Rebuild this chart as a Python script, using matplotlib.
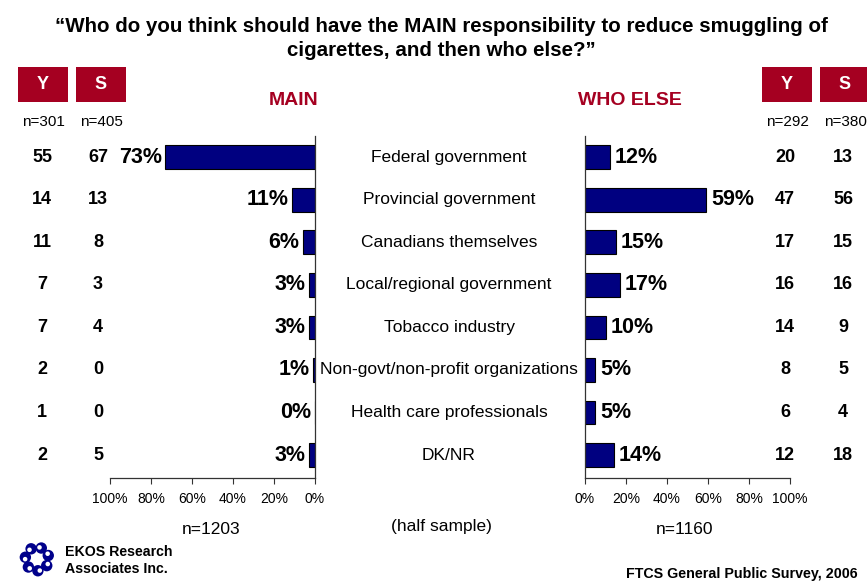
import matplotlib
matplotlib.use("Agg")
import numpy as np
import matplotlib.pyplot as plt
import matplotlib.transforms as mtransforms
from matplotlib.patches import Circle, Rectangle

categories = ["Federal government", "Provincial government", "Canadians themselves",
              "Local/regional government", "Tobacco industry",
              "Non-govt/non-profit organizations", "Health care professionals", "DK/NR"]
main_pct = [73, 11, 6, 3, 3, 1, 0, 3]
else_pct = [12, 59, 15, 17, 10, 5, 5, 14]
main_youth = [55, 14, 11, 7, 7, 2, 1, 2]
main_smokers = [67, 13, 8, 3, 4, 0, 0, 5]
else_youth = [20, 47, 17, 16, 14, 8, 6, 12]
else_smokers = [13, 56, 15, 16, 9, 5, 4, 18]
ticks = [0, 20, 40, 60, 80, 100]
tick_labels = ["0%", "20%", "40%", "60%", "80%", "100%"]

W, H = 867, 582
RED = "#A50021"
NAVY = "#000080"
FONT = "Liberation Sans"

fig = plt.figure(figsize=(W / 100, H / 100), dpi=100)


def fx(x):
    return x / W


def fy(y):
    return 1 - y / H


rows = list(range(len(categories)))
ax_top, ax_bot = 136, 478
axL = fig.add_axes([fx(110), fy(ax_bot), 205 / W, (ax_bot - ax_top) / H])
axR = fig.add_axes([fx(585), fy(ax_bot), 205 / W, (ax_bot - ax_top) / H])

for ax, vals in ((axL, main_pct), (axR, else_pct)):
    ax.barh(rows, vals, height=0.56, color=NAVY, edgecolor="black", linewidth=0.8)
    ax.set_xlim(0, 100)
    ax.set_ylim(7.54, -0.5)
    ax.set_yticks([])
    ax.set_xticks(ticks)
    ax.set_xticklabels(tick_labels, fontsize=10, family=FONT)
    ax.tick_params(axis="x", direction="out", length=4, width=0.8, color="#333333", pad=6)
    for s in ax.spines.values():
        s.set_color("#333333")
        s.set_linewidth(0.9)
    ax.spines["top"].set_visible(False)

axL.invert_xaxis()
axL.spines["left"].set_visible(False)
axR.spines["right"].set_visible(False)

# percent labels next to the bars
for i, v in enumerate(main_pct):
    axL.text(v + 1.8, i, f"{v}%", ha="right", va="center", fontsize=15.5,
             fontweight="bold", family=FONT)
for i, v in enumerate(else_pct):
    axR.text(v + 2.5, i, f"{v}%", ha="left", va="center", fontsize=15.5,
             fontweight="bold", family=FONT)

# category names and subgroup counts
tr = mtransforms.blended_transform_factory(fig.transFigure, axL.transData)
for i, cat in enumerate(categories):
    fig.text(fx(449), i, cat, transform=tr, ha="center", va="center",
             fontsize=12.5, family=FONT)
    for x, col in ((42, main_youth), (98, main_smokers), (785, else_youth), (843, else_smokers)):
        fig.text(fx(x), i, str(col[i]), transform=tr, ha="center", va="center",
                 fontsize=13, fontweight="bold", family=FONT)

# Y / S badges
for x0, label, n in ((18, "Y", "n=301"), (76, "S", "n=405"),
                     (762, "Y", "n=292"), (820, "S", "n=380")):
    fig.patches.append(Rectangle((fx(x0), fy(102)), 50 / W, 35 / H, transform=fig.transFigure,
                                 facecolor=RED, edgecolor="none"))
    fig.text(fx(x0 + 25), fy(84.5), label, ha="center", va="center", color="white",
             fontsize=13, fontweight="bold", family=FONT)
    fig.text(fx(x0 + 25), fy(122), n, ha="center", va="center", fontsize=11, family=FONT)

fig.text(fx(294), fy(100), "MAIN", ha="center", va="center", color=RED,
         fontsize=14, fontweight="bold", family=FONT)
fig.text(fx(630), fy(100), "WHO ELSE", ha="center", va="center", color=RED,
         fontsize=14, fontweight="bold", family=FONT)

fig.text(fx(441), fy(27), "\u201cWho do you think should have the MAIN responsibility to reduce smuggling of",
         ha="center", va="center", fontsize=14.8, fontweight="bold", family=FONT)
fig.text(fx(441), fy(50), "cigarettes, and then who else?\u201d",
         ha="center", va="center", fontsize=14.8, fontweight="bold", family=FONT)

fig.text(fx(211), fy(529), "n=1203", ha="center", va="center", fontsize=12.5, family=FONT)
fig.text(fx(441), fy(527), "(half sample)", ha="center", va="center", fontsize=12.5, family=FONT)
fig.text(fx(685), fy(529), "n=1160", ha="center", va="center", fontsize=12.5, family=FONT)

fig.text(fx(858), fy(574), "FTCS General Public Survey, 2006", ha="right", va="center",
         fontsize=10.3, fontweight="bold", family=FONT)
fig.text(fx(65), fy(552), "EKOS Research", ha="left", va="center",
         fontsize=10.2, fontweight="bold", family=FONT)
fig.text(fx(65), fy(569), "Associates Inc.", ha="left", va="center",
         fontsize=10.2, fontweight="bold", family=FONT)

# company logo: ring of curls
logo = fig.add_axes([fx(18), fy(580), 38 / W, 42 / H])
logo.set_xlim(-1, 1)
logo.set_ylim(-1, 1)
logo.set_aspect("equal")
logo.axis("off")
for k in range(7):
    a = 2 * np.pi * k / 7 + 0.3
    cx, cy = 0.62 * np.cos(a), 0.62 * np.sin(a)
    logo.add_patch(Circle((cx, cy), 0.3, facecolor="#00008B", edgecolor="none"))
    logo.add_patch(Circle((cx + 0.1 * np.cos(a + 1.6), cy + 0.1 * np.sin(a + 1.6)), 0.12,
                          facecolor="white", edgecolor="none"))

fig.savefig("out.png", dpi=100)
